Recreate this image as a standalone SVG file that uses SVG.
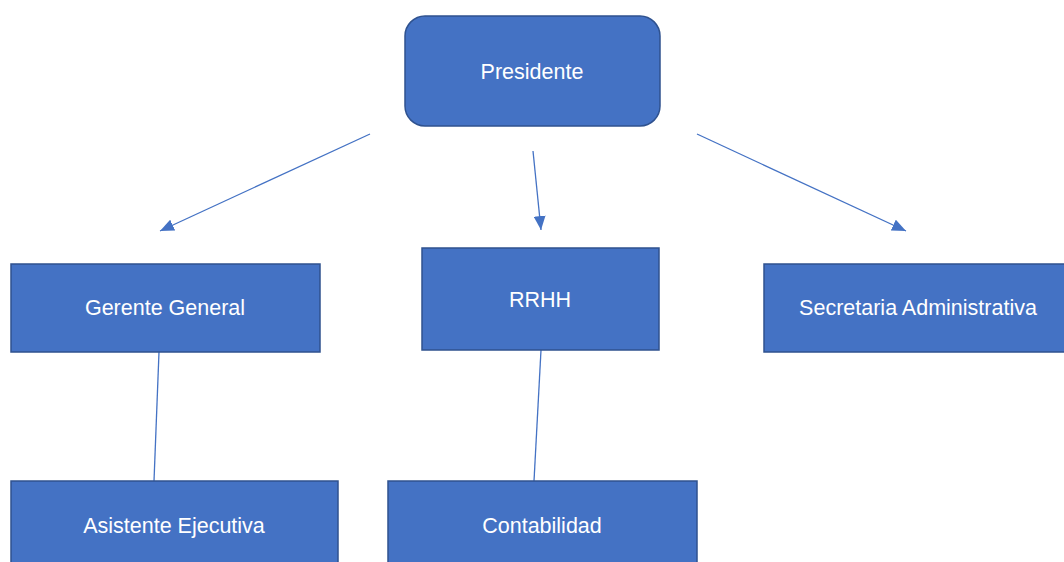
<svg xmlns="http://www.w3.org/2000/svg" width="1064" height="562" viewBox="0 0 1064 562">
<style>
.box{fill:#4472C4;stroke:#2F528F;stroke-width:1.5}
.lbl{fill:#FFFFFF;font-family:"Liberation Sans",Arial,sans-serif;font-size:21.5px;text-anchor:middle;dominant-baseline:central}
.con{stroke:#4472C4;stroke-width:1.3;fill:none}
</style>
<defs>
<marker id="ahb" viewBox="0 0 14 12" refX="14" refY="6" markerWidth="14" markerHeight="12" markerUnits="userSpaceOnUse" orient="auto">
<path d="M0,0 L14,6 L0,12 Z" fill="#4472C4"/>
</marker>
</defs>
<rect width="1064" height="562" fill="#FFFFFF"/>
<g id="connectors">
<line class="con" x1="370" y1="134" x2="160" y2="231" marker-end="url(#ahb)"/>
<line class="con" x1="533" y1="151" x2="541" y2="230" marker-end="url(#ahb)"/>
<line class="con" x1="697" y1="134" x2="906" y2="231" marker-end="url(#ahb)"/>
<line class="con" x1="159" y1="352" x2="154" y2="481"/>
<line class="con" x1="541" y1="350" x2="534" y2="481"/>
</g>
<g id="presidente">
<rect class="box" x="405" y="16" width="255" height="110" rx="20" ry="20"/>
<text class="lbl" x="532" y="72">Presidente</text>
</g>
<g id="gerente-general">
<rect class="box" x="11" y="264" width="309" height="88"/>
<text class="lbl" x="165" y="308">Gerente General</text>
</g>
<g id="rrhh">
<rect class="box" x="422" y="248" width="237" height="102"/>
<text class="lbl" x="540" y="300">RRHH</text>
</g>
<g id="secretaria-administrativa">
<rect class="box" x="764" y="264" width="310" height="88"/>
<text class="lbl" x="918" y="308">Secretaria Administrativa</text>
</g>
<g id="asistente-ejecutiva">
<rect class="box" x="11" y="481" width="327" height="95"/>
<text class="lbl" x="174" y="526">Asistente Ejecutiva</text>
</g>
<g id="contabilidad">
<rect class="box" x="388" y="481" width="309" height="95"/>
<text class="lbl" x="542" y="526">Contabilidad</text>
</g>
</svg>
